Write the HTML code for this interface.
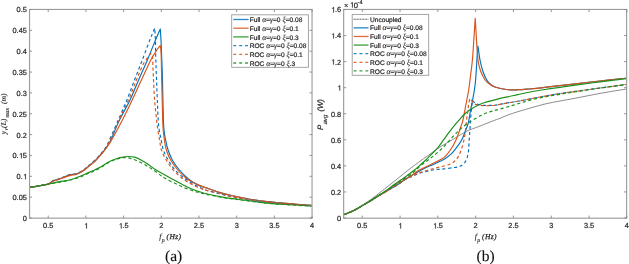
<!DOCTYPE html>
<html><head><meta charset="utf-8"><style>
html,body{margin:0;padding:0;background:#fff;width:629px;height:264px;overflow:hidden;}
svg{display:block;font-family:"Liberation Sans",sans-serif;will-change:transform;}
</style></head><body>
<svg width="629" height="264" viewBox="0 0 629 264">
<style>text{text-rendering:geometricPrecision}.tk{font-family:"Liberation Sans",sans-serif;font-size:7.4px;fill:#262626;stroke:#262626;stroke-width:0.2px}.lg{font-family:"Liberation Sans",sans-serif;font-size:6.6px;fill:#1e1e1e;stroke:#1e1e1e;stroke-width:0.2px}.gr{font-family:"Liberation Serif",serif;font-style:italic;font-size:7.6px;stroke-width:0.12px}.lbl{font-family:"Liberation Serif",serif;font-style:italic;fill:#262626;stroke:#262626;stroke-width:0.12px}.h{fill:none;stroke:none}.o1{fill:#262626;stroke:#262626;stroke-width:0.2px;stroke-linejoin:round}.cap{font-family:"Liberation Serif",serif;font-size:15.5px;fill:#111;stroke:#111;stroke-width:0.12px;text-anchor:middle}</style>
<rect width="629" height="264" fill="#fff"/>
<path d="M29.50 187.30 C30.42 187.18 33.25 186.87 35.00 186.60 C36.75 186.33 38.42 185.98 40.00 185.70 C41.58 185.42 43.08 185.18 44.50 184.90 C45.92 184.62 47.05 184.68 48.50 184.00 C49.95 183.32 51.62 181.57 53.20 180.80 C54.78 180.03 56.25 180.00 58.00 179.40 C59.75 178.80 61.80 177.97 63.70 177.20 C65.60 176.43 67.88 175.27 69.40 174.80 C70.92 174.33 71.67 174.52 72.80 174.40 C73.93 174.28 74.88 174.48 76.20 174.10 C77.52 173.72 79.38 172.78 80.70 172.10 C82.02 171.42 82.88 170.88 84.10 170.00 C85.32 169.12 86.12 168.38 88.00 166.80 C89.88 165.22 93.23 162.57 95.40 160.50 C97.57 158.43 99.12 156.63 101.00 154.40 C102.88 152.17 105.07 149.50 106.70 147.10 C108.33 144.70 108.67 144.52 110.80 140.00 C112.93 135.48 116.30 126.67 119.50 120.00 C122.70 113.33 126.82 106.67 130.00 100.00 C133.18 93.33 135.70 86.67 138.60 80.00 C141.50 73.33 144.58 66.67 147.40 60.00 C150.22 53.33 153.87 44.00 155.50 40.00 C157.13 36.00 156.40 37.83 157.20 36.00 C158.00 34.17 159.78 30.17 160.30 29.00 C160.42 30.83 160.75 34.83 161.00 40.00 C161.25 45.17 161.55 53.33 161.80 60.00 C162.05 66.67 162.32 73.33 162.50 80.00 C162.68 86.67 162.75 93.33 162.90 100.00 C163.05 106.67 163.22 115.00 163.40 120.00 C163.58 125.00 163.63 126.67 164.00 130.00 C164.37 133.33 164.92 136.67 165.60 140.00 C166.28 143.33 166.98 146.67 168.10 150.00 C169.22 153.33 170.42 156.67 172.30 160.00 C174.18 163.33 176.85 166.97 179.40 170.00 C181.95 173.03 185.25 176.10 187.60 178.20 C189.95 180.30 191.43 181.32 193.50 182.60 C195.57 183.88 197.67 184.95 200.00 185.90 C202.33 186.85 204.17 187.18 207.50 188.30 C210.83 189.42 215.83 191.35 220.00 192.60 C224.17 193.85 228.33 194.85 232.50 195.80 C236.67 196.75 239.93 197.42 245.00 198.30 C250.07 199.18 256.10 200.25 262.90 201.10 C269.70 201.95 277.70 202.68 285.80 203.40 C293.90 204.12 307.22 205.07 311.50 205.40" fill="none" stroke="#0072BD" stroke-width="1.15" stroke-linejoin="round"/>
<path d="M29.50 187.30 C30.42 187.18 33.25 186.87 35.00 186.60 C36.75 186.33 38.42 185.98 40.00 185.70 C41.58 185.42 43.08 185.18 44.50 184.90 C45.92 184.62 47.05 184.65 48.50 184.00 C49.95 183.35 51.62 181.73 53.20 181.00 C54.78 180.27 56.25 180.17 58.00 179.60 C59.75 179.03 61.80 178.27 63.70 177.60 C65.60 176.93 67.88 176.03 69.40 175.60 C70.92 175.17 71.67 175.20 72.80 175.00 C73.93 174.80 74.88 174.85 76.20 174.40 C77.52 173.95 79.38 172.98 80.70 172.30 C82.02 171.62 82.88 171.17 84.10 170.30 C85.32 169.43 86.12 168.68 88.00 167.10 C89.88 165.52 93.23 162.87 95.40 160.80 C97.57 158.73 99.12 156.93 101.00 154.70 C102.88 152.47 104.93 149.85 106.70 147.40 C108.47 144.95 108.98 144.57 111.60 140.00 C114.22 135.43 118.97 126.67 122.40 120.00 C125.83 113.33 129.03 106.67 132.20 100.00 C135.37 93.33 138.30 86.67 141.40 80.00 C144.50 73.33 148.43 64.67 150.80 60.00 C153.17 55.33 154.43 53.92 155.60 52.00 C156.77 50.08 157.03 49.57 157.80 48.50 C158.57 47.43 159.80 46.08 160.20 45.60 C160.32 46.33 160.72 47.60 160.90 50.00 C161.08 52.40 161.17 55.00 161.30 60.00 C161.43 65.00 161.55 73.33 161.70 80.00 C161.85 86.67 162.03 93.33 162.20 100.00 C162.37 106.67 162.53 115.00 162.70 120.00 C162.87 125.00 162.92 126.67 163.20 130.00 C163.48 133.33 163.87 136.67 164.40 140.00 C164.93 143.33 165.37 146.67 166.40 150.00 C167.43 153.33 168.70 156.67 170.60 160.00 C172.50 163.33 175.23 167.00 177.80 170.00 C180.37 173.00 183.55 176.00 186.00 178.00 C188.45 180.00 190.17 180.73 192.50 182.00 C194.83 183.27 197.50 184.55 200.00 185.60 C202.50 186.65 204.17 187.13 207.50 188.30 C210.83 189.47 215.83 191.35 220.00 192.60 C224.17 193.85 228.33 194.85 232.50 195.80 C236.67 196.75 239.93 197.42 245.00 198.30 C250.07 199.18 256.10 200.25 262.90 201.10 C269.70 201.95 277.70 202.68 285.80 203.40 C293.90 204.12 307.22 205.07 311.50 205.40" fill="none" stroke="#D95319" stroke-width="1.15" stroke-linejoin="round"/>
<path d="M29.50 187.30 C30.42 187.18 33.25 186.87 35.00 186.60 C36.75 186.33 38.42 185.98 40.00 185.70 C41.58 185.42 43.08 185.18 44.50 184.90 C45.92 184.62 46.60 184.42 48.50 184.00 C50.40 183.58 53.65 182.87 55.90 182.40 C58.15 181.93 59.75 181.60 62.00 181.20 C64.25 180.80 66.37 180.83 69.40 180.00 C72.43 179.17 77.10 177.40 80.20 176.20 C83.30 175.00 85.87 173.70 88.00 172.80 C90.13 171.90 91.00 171.72 93.00 170.80 C95.00 169.88 97.47 168.73 100.00 167.30 C102.53 165.87 105.72 163.53 108.20 162.20 C110.68 160.87 112.68 160.12 114.90 159.30 C117.12 158.48 119.30 157.77 121.50 157.30 C123.70 156.83 125.90 156.52 128.10 156.50 C130.30 156.48 132.48 156.58 134.70 157.20 C136.92 157.82 139.18 159.03 141.40 160.20 C143.62 161.37 145.73 162.68 148.00 164.20 C150.27 165.72 153.00 167.97 155.00 169.30 C157.00 170.63 158.33 171.25 160.00 172.20 C161.67 173.15 162.27 173.48 165.00 175.00 C167.73 176.52 172.62 179.27 176.40 181.30 C180.18 183.33 184.60 185.72 187.70 187.20 C190.80 188.68 193.10 189.47 195.00 190.20 C196.90 190.93 197.02 190.97 199.10 191.60 C201.18 192.23 204.02 193.17 207.50 194.00 C210.98 194.83 215.83 195.82 220.00 196.60 C224.17 197.38 228.33 198.10 232.50 198.70 C236.67 199.30 239.93 199.55 245.00 200.20 C250.07 200.85 256.10 201.88 262.90 202.60 C269.70 203.32 277.70 203.93 285.80 204.50 C293.90 205.07 307.22 205.75 311.50 206.00" fill="none" stroke="#1c901c" stroke-width="1.20" stroke-linejoin="round"/>
<path d="M29.50 187.30 C30.42 187.18 33.25 186.87 35.00 186.60 C36.75 186.33 38.42 185.98 40.00 185.70 C41.58 185.42 43.08 185.18 44.50 184.90 C45.92 184.62 47.05 184.72 48.50 184.00 C49.95 183.28 51.62 181.40 53.20 180.60 C54.78 179.80 56.25 179.80 58.00 179.20 C59.75 178.60 61.80 177.77 63.70 177.00 C65.60 176.23 67.88 175.07 69.40 174.60 C70.92 174.13 71.67 174.33 72.80 174.20 C73.93 174.07 74.88 174.22 76.20 173.80 C77.52 173.38 79.38 172.40 80.70 171.70 C82.02 171.00 82.88 170.52 84.10 169.60 C85.32 168.68 86.12 167.85 88.00 166.20 C89.88 164.55 93.23 161.82 95.40 159.70 C97.57 157.58 99.20 155.65 101.00 153.50 C102.80 151.35 104.80 149.05 106.20 146.80 C107.60 144.55 107.38 144.47 109.40 140.00 C111.42 135.53 115.38 126.67 118.30 120.00 C121.22 113.33 124.20 106.67 126.90 100.00 C129.60 93.33 131.93 86.67 134.50 80.00 C137.07 73.33 139.75 66.67 142.30 60.00 C144.85 53.33 148.20 44.17 149.80 40.00 C151.40 35.83 151.08 36.97 151.90 35.00 C152.72 33.03 154.23 29.33 154.70 28.20 C154.82 30.17 155.22 34.70 155.40 40.00 C155.58 45.30 155.60 53.33 155.80 60.00 C156.00 66.67 156.35 73.33 156.60 80.00 C156.85 86.67 157.03 93.33 157.30 100.00 C157.57 106.67 157.88 115.00 158.20 120.00 C158.52 125.00 158.70 126.67 159.20 130.00 C159.70 133.33 160.50 136.67 161.20 140.00 C161.90 143.33 162.23 146.67 163.40 150.00 C164.57 153.33 166.27 156.67 168.20 160.00 C170.13 163.33 172.37 167.00 175.00 170.00 C177.63 173.00 181.50 176.00 184.00 178.00 C186.50 180.00 187.93 180.70 190.00 182.00 C192.07 183.30 194.40 184.72 196.40 185.80 C198.40 186.88 200.15 187.70 202.00 188.50 C203.85 189.30 204.50 189.72 207.50 190.60 C210.50 191.48 215.83 192.77 220.00 193.80 C224.17 194.83 228.33 195.93 232.50 196.80 C236.67 197.67 239.93 198.20 245.00 199.00 C250.07 199.80 256.10 200.82 262.90 201.60 C269.70 202.38 277.70 203.03 285.80 203.70 C293.90 204.37 307.22 205.28 311.50 205.60" fill="none" stroke="#0072BD" stroke-width="1.15" stroke-linejoin="round" stroke-dasharray="3.2 2.6"/>
<path d="M29.50 187.30 C30.42 187.18 33.25 186.87 35.00 186.60 C36.75 186.33 38.42 185.98 40.00 185.70 C41.58 185.42 43.08 185.18 44.50 184.90 C45.92 184.62 47.05 184.70 48.50 184.00 C49.95 183.30 51.62 181.48 53.20 180.70 C54.78 179.92 56.25 179.90 58.00 179.30 C59.75 178.70 61.80 177.85 63.70 177.10 C65.60 176.35 67.88 175.23 69.40 174.80 C70.92 174.37 71.67 174.63 72.80 174.50 C73.93 174.37 74.88 174.43 76.20 174.00 C77.52 173.57 79.38 172.58 80.70 171.90 C82.02 171.22 82.88 170.78 84.10 169.90 C85.32 169.02 86.12 168.22 88.00 166.60 C89.88 164.98 93.23 162.30 95.40 160.20 C97.57 158.10 99.15 156.20 101.00 154.00 C102.85 151.80 104.97 149.33 106.50 147.00 C108.03 144.67 108.12 144.50 110.20 140.00 C112.28 135.50 115.95 126.67 119.00 120.00 C122.05 113.33 125.60 106.67 128.50 100.00 C131.40 93.33 134.02 85.83 136.40 80.00 C138.78 74.17 141.20 68.33 142.80 65.00 C144.40 61.67 145.05 61.43 146.00 60.00 C146.95 58.57 147.83 57.33 148.50 56.40 C149.17 55.47 149.55 54.90 150.00 54.40 C150.45 53.90 151.00 53.57 151.20 53.40 C151.42 54.00 152.22 54.90 152.50 57.00 C152.78 59.10 152.73 62.17 152.90 66.00 C153.07 69.83 153.22 74.33 153.50 80.00 C153.78 85.67 154.08 93.33 154.60 100.00 C155.12 106.67 156.05 115.00 156.60 120.00 C157.15 125.00 157.40 126.67 157.90 130.00 C158.40 133.33 159.02 136.67 159.60 140.00 C160.18 143.33 160.28 146.67 161.40 150.00 C162.52 153.33 164.33 156.67 166.30 160.00 C168.27 163.33 170.63 167.00 173.20 170.00 C175.77 173.00 179.15 175.90 181.70 178.00 C184.25 180.10 186.28 181.27 188.50 182.60 C190.72 183.93 192.75 184.95 195.00 186.00 C197.25 187.05 199.92 188.13 202.00 188.90 C204.08 189.67 204.50 189.78 207.50 190.60 C210.50 191.42 215.83 192.77 220.00 193.80 C224.17 194.83 228.33 195.93 232.50 196.80 C236.67 197.67 239.93 198.20 245.00 199.00 C250.07 199.80 256.10 200.82 262.90 201.60 C269.70 202.38 277.70 203.03 285.80 203.70 C293.90 204.37 307.22 205.28 311.50 205.60" fill="none" stroke="#D95319" stroke-width="1.15" stroke-linejoin="round" stroke-dasharray="3.2 2.6"/>
<path d="M29.50 187.30 C30.42 187.18 33.25 186.87 35.00 186.60 C36.75 186.33 38.42 185.98 40.00 185.70 C41.58 185.42 43.08 185.18 44.50 184.90 C45.92 184.62 47.05 184.27 48.50 184.00 C49.95 183.73 51.30 183.62 53.20 183.30 C55.10 182.98 57.68 182.48 59.90 182.10 C62.12 181.72 63.20 181.82 66.50 181.00 C69.80 180.18 76.12 178.47 79.70 177.20 C83.28 175.93 85.78 174.37 88.00 173.40 C90.22 172.43 91.00 172.30 93.00 171.40 C95.00 170.50 97.47 169.43 100.00 168.00 C102.53 166.57 105.72 164.17 108.20 162.80 C110.68 161.43 112.68 160.63 114.90 159.80 C117.12 158.97 119.30 158.12 121.50 157.80 C123.70 157.48 125.90 157.57 128.10 157.90 C130.30 158.23 132.48 158.98 134.70 159.80 C136.92 160.62 139.18 161.67 141.40 162.80 C143.62 163.93 146.02 165.42 148.00 166.60 C149.98 167.78 151.30 168.52 153.30 169.90 C155.30 171.28 158.05 173.50 160.00 174.90 C161.95 176.30 162.27 176.78 165.00 178.30 C167.73 179.82 172.62 182.22 176.40 184.00 C180.18 185.78 183.92 187.57 187.70 189.00 C191.48 190.43 195.80 191.67 199.10 192.60 C202.40 193.53 204.02 193.87 207.50 194.60 C210.98 195.33 215.83 196.28 220.00 197.00 C224.17 197.72 228.33 198.33 232.50 198.90 C236.67 199.47 239.93 199.75 245.00 200.40 C250.07 201.05 256.10 202.10 262.90 202.80 C269.70 203.50 277.70 204.05 285.80 204.60 C293.90 205.15 307.22 205.85 311.50 206.10" fill="none" stroke="#1c901c" stroke-width="1.15" stroke-linejoin="round" stroke-dasharray="3.2 2.6"/>
<path d="M343.50 214.80 C344.25 214.50 346.32 213.72 348.00 213.00 C349.68 212.28 351.85 211.40 353.60 210.50 C355.35 209.60 356.73 208.67 358.50 207.60 C360.27 206.53 361.78 205.72 364.20 204.10 C366.62 202.48 369.45 200.55 373.00 197.90 C376.55 195.25 381.33 191.47 385.50 188.20 C389.67 184.93 394.08 181.42 398.00 178.30 C401.92 175.18 405.15 172.48 409.00 169.50 C412.85 166.52 417.77 162.83 421.10 160.40 C424.43 157.97 426.35 156.80 429.00 154.90 C431.65 153.00 434.33 150.82 437.00 149.00 C439.67 147.18 442.47 145.53 445.00 144.00 C447.53 142.47 449.05 141.67 452.20 139.80 C455.35 137.93 460.93 134.47 463.90 132.80 C466.87 131.13 467.08 131.02 470.00 129.80 C472.92 128.58 477.62 126.97 481.40 125.50 C485.18 124.03 489.60 122.20 492.70 121.00 C495.80 119.80 497.72 119.20 500.00 118.30 C502.28 117.40 503.90 116.55 506.40 115.60 C508.90 114.65 511.22 113.80 515.00 112.60 C518.78 111.40 524.10 109.83 529.10 108.40 C534.10 106.97 539.85 105.23 545.00 104.00 C550.15 102.77 554.92 101.97 560.00 101.00 C565.08 100.03 568.83 99.47 575.50 98.20 C582.17 96.93 591.58 94.92 600.00 93.40 C608.42 91.88 621.67 89.82 626.00 89.10" fill="none" stroke="#6e6e6e" stroke-width="0.80" stroke-linejoin="round"/>
<path d="M343.50 214.80 C344.25 214.50 346.32 213.70 348.00 213.00 C349.68 212.30 351.85 211.45 353.60 210.60 C355.35 209.75 356.73 208.90 358.50 207.90 C360.27 206.90 361.95 205.92 364.20 204.60 C366.45 203.28 369.37 201.60 372.00 200.00 C374.63 198.40 377.35 196.60 380.00 195.00 C382.65 193.40 384.90 192.15 387.90 190.40 C390.90 188.65 395.23 186.27 398.00 184.50 C400.77 182.73 401.85 181.53 404.50 179.80 C407.15 178.07 411.32 175.62 413.90 174.10 C416.48 172.58 418.05 171.77 420.00 170.70 C421.95 169.63 423.40 168.73 425.60 167.70 C427.80 166.67 430.68 165.63 433.20 164.50 C435.72 163.37 438.73 161.87 440.70 160.90 C442.67 159.93 443.33 159.78 445.00 158.70 C446.67 157.62 449.03 155.92 450.70 154.40 C452.37 152.88 453.17 152.00 455.00 149.60 C456.83 147.20 460.00 143.02 461.70 140.00 C463.40 136.98 464.18 134.08 465.20 131.50 C466.22 128.92 467.18 126.42 467.80 124.50 C468.42 122.58 468.43 122.42 468.90 120.00 C469.37 117.58 469.98 113.33 470.60 110.00 C471.22 106.67 471.97 103.33 472.60 100.00 C473.23 96.67 473.90 93.33 474.40 90.00 C474.90 86.67 475.23 84.17 475.60 80.00 C475.97 75.83 476.33 69.17 476.60 65.00 C476.87 60.83 476.98 58.15 477.20 55.00 C477.42 51.85 477.78 47.58 477.90 46.10 C478.05 47.08 478.45 49.68 478.80 52.00 C479.15 54.32 479.37 56.92 480.00 60.00 C480.63 63.08 481.52 67.25 482.60 70.50 C483.68 73.75 485.18 77.22 486.50 79.50 C487.82 81.78 489.08 82.95 490.50 84.20 C491.92 85.45 492.35 86.12 495.00 87.00 C497.65 87.88 502.62 89.03 506.40 89.50 C510.18 89.97 513.92 89.88 517.70 89.80 C521.48 89.72 524.55 89.40 529.10 89.00 C533.65 88.60 539.85 87.97 545.00 87.40 C550.15 86.83 554.92 86.18 560.00 85.60 C565.08 85.02 568.83 84.67 575.50 83.90 C582.17 83.13 591.58 81.95 600.00 81.00 C608.42 80.05 621.67 78.67 626.00 78.20" fill="none" stroke="#0072BD" stroke-width="1.15" stroke-linejoin="round"/>
<path d="M343.50 214.80 C344.25 214.50 346.32 213.70 348.00 213.00 C349.68 212.30 351.85 211.45 353.60 210.60 C355.35 209.75 356.73 208.90 358.50 207.90 C360.27 206.90 361.95 205.92 364.20 204.60 C366.45 203.28 369.37 201.60 372.00 200.00 C374.63 198.40 377.35 196.62 380.00 195.00 C382.65 193.38 385.40 192.02 387.90 190.30 C390.40 188.58 392.43 186.33 395.00 184.70 C397.57 183.07 400.52 182.03 403.30 180.50 C406.08 178.97 409.25 177.12 411.70 175.50 C414.15 173.88 415.68 172.20 418.00 170.80 C420.32 169.40 423.07 168.35 425.60 167.10 C428.13 165.85 430.68 164.57 433.20 163.30 C435.72 162.03 438.73 160.62 440.70 159.50 C442.67 158.38 443.42 158.13 445.00 156.60 C446.58 155.07 448.37 153.07 450.20 150.30 C452.03 147.53 454.18 144.05 456.00 140.00 C457.82 135.95 459.93 129.33 461.10 126.00 C462.27 122.67 462.37 122.67 463.00 120.00 C463.63 117.33 464.27 113.33 464.90 110.00 C465.53 106.67 466.17 103.33 466.80 100.00 C467.43 96.67 468.17 93.33 468.70 90.00 C469.23 86.67 469.38 85.00 470.00 80.00 C470.62 75.00 471.77 66.67 472.40 60.00 C473.03 53.33 473.43 45.33 473.80 40.00 C474.17 34.67 474.37 31.62 474.60 28.00 C474.83 24.38 475.10 19.92 475.20 18.30 C475.30 19.92 475.58 24.38 475.80 28.00 C476.02 31.62 476.13 34.67 476.50 40.00 C476.87 45.33 477.35 54.92 478.00 60.00 C478.65 65.08 479.27 67.25 480.40 70.50 C481.53 73.75 483.37 77.28 484.80 79.50 C486.23 81.72 487.30 82.55 489.00 83.80 C490.70 85.05 492.10 86.05 495.00 87.00 C497.90 87.95 502.62 89.03 506.40 89.50 C510.18 89.97 513.92 89.88 517.70 89.80 C521.48 89.72 524.55 89.40 529.10 89.00 C533.65 88.60 539.85 87.97 545.00 87.40 C550.15 86.83 554.92 86.18 560.00 85.60 C565.08 85.02 568.83 84.67 575.50 83.90 C582.17 83.13 591.58 81.95 600.00 81.00 C608.42 80.05 621.67 78.67 626.00 78.20" fill="none" stroke="#D95319" stroke-width="1.15" stroke-linejoin="round"/>
<path d="M343.50 214.80 C344.25 214.50 346.32 213.70 348.00 213.00 C349.68 212.30 351.85 211.45 353.60 210.60 C355.35 209.75 356.73 208.90 358.50 207.90 C360.27 206.90 361.95 205.97 364.20 204.60 C366.45 203.23 369.37 201.38 372.00 199.70 C374.63 198.02 377.33 196.25 380.00 194.50 C382.67 192.75 385.50 190.95 388.00 189.20 C390.50 187.45 392.25 185.97 395.00 184.00 C397.75 182.03 401.35 179.65 404.50 177.40 C407.65 175.15 411.32 172.52 413.90 170.50 C416.48 168.48 418.07 167.02 420.00 165.30 C421.93 163.58 423.77 161.87 425.50 160.20 C427.23 158.53 428.40 157.32 430.40 155.30 C432.40 153.28 435.35 150.62 437.50 148.10 C439.65 145.58 441.38 142.82 443.30 140.20 C445.22 137.58 447.13 134.88 449.00 132.40 C450.87 129.92 452.87 127.32 454.50 125.30 C456.13 123.28 457.13 122.13 458.80 120.30 C460.47 118.47 462.60 116.08 464.50 114.30 C466.40 112.52 468.45 110.85 470.20 109.60 C471.95 108.35 473.53 107.62 475.00 106.80 C476.47 105.98 477.50 105.37 479.00 104.70 C480.50 104.03 482.17 103.40 484.00 102.80 C485.83 102.20 488.17 101.60 490.00 101.10 C491.83 100.60 492.33 100.45 495.00 99.80 C497.67 99.15 502.22 98.05 506.00 97.20 C509.78 96.35 513.70 95.57 517.70 94.70 C521.70 93.83 525.45 92.87 530.00 92.00 C534.55 91.13 540.00 90.28 545.00 89.50 C550.00 88.72 554.92 88.02 560.00 87.30 C565.08 86.58 568.83 86.12 575.50 85.20 C582.17 84.28 591.58 82.90 600.00 81.80 C608.42 80.70 621.67 79.13 626.00 78.60" fill="none" stroke="#1c901c" stroke-width="1.20" stroke-linejoin="round"/>
<path d="M343.50 214.80 C344.25 214.50 346.32 213.70 348.00 213.00 C349.68 212.30 351.85 211.45 353.60 210.60 C355.35 209.75 356.73 208.90 358.50 207.90 C360.27 206.90 361.95 205.92 364.20 204.60 C366.45 203.28 369.37 201.60 372.00 200.00 C374.63 198.40 377.35 196.58 380.00 195.00 C382.65 193.42 384.90 192.25 387.90 190.50 C390.90 188.75 395.57 186.05 398.00 184.50 C400.43 182.95 400.92 182.23 402.50 181.20 C404.08 180.17 405.55 179.25 407.50 178.30 C409.45 177.35 412.20 176.35 414.20 175.50 C416.20 174.65 417.60 173.85 419.50 173.20 C421.40 172.55 423.58 172.12 425.60 171.60 C427.62 171.08 429.58 170.47 431.60 170.10 C433.62 169.73 435.62 169.60 437.70 169.40 C439.78 169.20 441.30 169.22 444.10 168.90 C446.90 168.58 452.02 167.88 454.50 167.50 C456.98 167.12 457.82 166.95 459.00 166.60 C460.18 166.25 460.77 165.90 461.60 165.40 C462.43 164.90 463.33 164.28 464.00 163.60 C464.67 162.92 465.13 162.15 465.60 161.30 C466.07 160.45 466.45 159.47 466.80 158.50 C467.15 157.53 467.40 156.92 467.70 155.50 C468.00 154.08 468.35 152.58 468.60 150.00 C468.85 147.42 468.98 143.33 469.20 140.00 C469.42 136.67 469.68 133.33 469.90 130.00 C470.12 126.67 470.25 123.33 470.50 120.00 C470.75 116.67 471.17 112.50 471.40 110.00 C471.63 107.50 471.73 106.57 471.90 105.00 C472.07 103.43 472.32 101.33 472.40 100.60 C472.55 100.72 472.98 101.00 473.30 101.30 C473.62 101.60 473.85 102.02 474.30 102.40 C474.75 102.78 475.37 103.27 476.00 103.60 C476.63 103.93 476.65 104.10 478.10 104.40 C479.55 104.70 482.72 105.23 484.70 105.40 C486.68 105.57 488.28 105.42 490.00 105.40 C491.72 105.38 492.27 105.68 495.00 105.30 C497.73 104.92 502.62 103.77 506.40 103.10 C510.18 102.43 513.92 101.97 517.70 101.30 C521.48 100.63 524.55 99.97 529.10 99.10 C533.65 98.23 539.85 97.02 545.00 96.10 C550.15 95.18 554.92 94.38 560.00 93.60 C565.08 92.82 568.83 92.33 575.50 91.40 C582.17 90.47 591.58 89.15 600.00 88.00 C608.42 86.85 621.67 85.08 626.00 84.50" fill="none" stroke="#0072BD" stroke-width="1.15" stroke-linejoin="round" stroke-dasharray="3.2 2.6"/>
<path d="M343.50 214.80 C344.25 214.50 346.32 213.70 348.00 213.00 C349.68 212.30 351.85 211.45 353.60 210.60 C355.35 209.75 356.73 208.90 358.50 207.90 C360.27 206.90 361.95 205.92 364.20 204.60 C366.45 203.28 369.37 201.60 372.00 200.00 C374.63 198.40 377.35 196.60 380.00 195.00 C382.65 193.40 384.90 192.18 387.90 190.40 C390.90 188.62 395.57 185.87 398.00 184.30 C400.43 182.73 400.92 182.05 402.50 181.00 C404.08 179.95 405.55 178.98 407.50 178.00 C409.45 177.02 412.20 175.97 414.20 175.10 C416.20 174.23 417.60 173.50 419.50 172.80 C421.40 172.10 423.58 171.53 425.60 170.90 C427.62 170.27 429.58 169.57 431.60 169.00 C433.62 168.43 435.67 168.00 437.70 167.50 C439.73 167.00 441.80 166.55 443.80 166.00 C445.80 165.45 447.92 164.98 449.70 164.20 C451.48 163.42 453.07 162.57 454.50 161.30 C455.93 160.03 457.20 158.48 458.30 156.60 C459.40 154.72 460.17 152.68 461.10 150.00 C462.03 147.32 463.17 143.83 463.90 140.50 C464.63 137.17 465.05 133.42 465.50 130.00 C465.95 126.58 466.20 123.33 466.60 120.00 C467.00 116.67 467.50 112.92 467.90 110.00 C468.30 107.08 468.68 104.40 469.00 102.50 C469.32 100.60 469.67 99.25 469.80 98.60 C470.00 98.80 470.57 99.33 471.00 99.80 C471.43 100.27 471.85 100.73 472.40 101.40 C472.95 102.07 473.35 103.20 474.30 103.80 C475.25 104.40 476.37 104.67 478.10 105.00 C479.83 105.33 482.72 105.70 484.70 105.80 C486.68 105.90 488.28 105.68 490.00 105.60 C491.72 105.52 492.27 105.72 495.00 105.30 C497.73 104.88 502.62 103.77 506.40 103.10 C510.18 102.43 513.92 101.97 517.70 101.30 C521.48 100.63 524.55 99.97 529.10 99.10 C533.65 98.23 539.85 97.02 545.00 96.10 C550.15 95.18 554.92 94.38 560.00 93.60 C565.08 92.82 568.83 92.33 575.50 91.40 C582.17 90.47 591.58 89.15 600.00 88.00 C608.42 86.85 621.67 85.08 626.00 84.50" fill="none" stroke="#D95319" stroke-width="1.15" stroke-linejoin="round" stroke-dasharray="3.2 2.6"/>
<path d="M343.50 214.80 C344.25 214.50 346.32 213.70 348.00 213.00 C349.68 212.30 351.85 211.45 353.60 210.60 C355.35 209.75 356.73 208.90 358.50 207.90 C360.27 206.90 361.95 205.95 364.20 204.60 C366.45 203.25 369.37 201.45 372.00 199.80 C374.63 198.15 377.33 196.40 380.00 194.70 C382.67 193.00 385.00 191.55 388.00 189.60 C391.00 187.65 393.92 185.78 398.00 183.00 C402.08 180.22 408.83 175.68 412.50 172.90 C416.17 170.12 417.43 168.42 420.00 166.30 C422.57 164.18 425.68 161.92 427.90 160.20 C430.12 158.48 431.28 157.65 433.30 156.00 C435.32 154.35 438.05 152.05 440.00 150.30 C441.95 148.55 443.42 147.17 445.00 145.50 C446.58 143.83 447.92 142.07 449.50 140.30 C451.08 138.53 453.00 136.47 454.50 134.90 C456.00 133.33 457.08 132.23 458.50 130.90 C459.92 129.57 461.58 128.08 463.00 126.90 C464.42 125.72 465.28 124.98 467.00 123.80 C468.72 122.62 470.90 121.22 473.30 119.80 C475.70 118.38 479.12 116.47 481.40 115.30 C483.68 114.13 484.73 113.62 487.00 112.80 C489.27 111.98 491.77 111.33 495.00 110.40 C498.23 109.47 502.62 108.30 506.40 107.20 C510.18 106.10 513.92 104.93 517.70 103.80 C521.48 102.67 524.55 101.55 529.10 100.40 C533.65 99.25 539.85 97.92 545.00 96.90 C550.15 95.88 554.92 95.15 560.00 94.30 C565.08 93.45 568.83 92.85 575.50 91.80 C582.17 90.75 591.58 89.20 600.00 88.00 C608.42 86.80 621.67 85.17 626.00 84.60" fill="none" stroke="#1c901c" stroke-width="1.15" stroke-linejoin="round" stroke-dasharray="3.2 2.6"/>
<rect x="29.55" y="9.45" width="282.50" height="208.70" fill="none" stroke="#9c9c9c" stroke-width="1.15"/>
<path d="M48.20 218.15v-2.60M48.20 9.45v2.60M85.90 218.15v-2.60M85.90 9.45v2.60M123.60 218.15v-2.60M123.60 9.45v2.60M161.30 218.15v-2.60M161.30 9.45v2.60M199.00 218.15v-2.60M199.00 9.45v2.60M236.70 218.15v-2.60M236.70 9.45v2.60M274.40 218.15v-2.60M274.40 9.45v2.60M312.10 218.15v-2.60M312.10 9.45v2.60M29.55 218.00h2.60M312.05 218.00h-2.60M29.55 197.15h2.60M312.05 197.15h-2.60M29.55 176.30h2.60M312.05 176.30h-2.60M29.55 155.45h2.60M312.05 155.45h-2.60M29.55 134.60h2.60M312.05 134.60h-2.60M29.55 113.75h2.60M312.05 113.75h-2.60M29.55 92.90h2.60M312.05 92.90h-2.60M29.55 72.05h2.60M312.05 72.05h-2.60M29.55 51.20h2.60M312.05 51.20h-2.60M29.55 30.35h2.60M312.05 30.35h-2.60M29.55 9.50h2.60M312.05 9.50h-2.60" stroke="#8a8a8a" stroke-width="0.9" fill="none"/>
<rect x="343.65" y="9.45" width="282.95" height="208.75" fill="none" stroke="#9c9c9c" stroke-width="1.15"/>
<path d="M362.25 218.20v-2.60M362.25 9.45v2.60M400.05 218.20v-2.60M400.05 9.45v2.60M437.85 218.20v-2.60M437.85 9.45v2.60M475.65 218.20v-2.60M475.65 9.45v2.60M513.45 218.20v-2.60M513.45 9.45v2.60M551.25 218.20v-2.60M551.25 9.45v2.60M589.05 218.20v-2.60M589.05 9.45v2.60M626.85 218.20v-2.60M626.85 9.45v2.60M343.65 218.00h2.60M626.60 218.00h-2.60M343.65 191.94h2.60M626.60 191.94h-2.60M343.65 165.88h2.60M626.60 165.88h-2.60M343.65 139.82h2.60M626.60 139.82h-2.60M343.65 113.76h2.60M626.60 113.76h-2.60M343.65 87.70h2.60M626.60 87.70h-2.60M343.65 61.64h2.60M626.60 61.64h-2.60M343.65 35.58h2.60M626.60 35.58h-2.60M343.65 9.52h2.60M626.60 9.52h-2.60" stroke="#8a8a8a" stroke-width="0.9" fill="none"/>
<text x="48.20" y="228.45" class="tk" text-anchor="middle">0.5</text>
<text x="85.90" y="228.45" class="tk" text-anchor="middle"><tspan class="h">1</tspan></text>
<path class="o1" d="M86.25 228.45 L86.25 223.98 L85.10 224.80 L85.10 224.19 L86.30 223.36 L86.90 223.36 L86.90 228.45 Z"/>
<text x="123.60" y="228.45" class="tk" text-anchor="middle"><tspan class="h">1</tspan>.5</text>
<path class="o1" d="M120.86 228.45 L120.86 223.98 L119.71 224.80 L119.71 224.19 L120.91 223.36 L121.51 223.36 L121.51 228.45 Z"/>
<text x="161.30" y="228.45" class="tk" text-anchor="middle">2</text>
<text x="199.00" y="228.45" class="tk" text-anchor="middle">2.5</text>
<text x="236.70" y="228.45" class="tk" text-anchor="middle">3</text>
<text x="274.40" y="228.45" class="tk" text-anchor="middle">3.5</text>
<text x="312.10" y="228.45" class="tk" text-anchor="middle">4</text>
<text x="362.25" y="228.45" class="tk" text-anchor="middle">0.5</text>
<text x="400.05" y="228.45" class="tk" text-anchor="middle"><tspan class="h">1</tspan></text>
<path class="o1" d="M400.40 228.45 L400.40 223.98 L399.25 224.80 L399.25 224.19 L400.45 223.36 L401.05 223.36 L401.05 228.45 Z"/>
<text x="437.85" y="228.45" class="tk" text-anchor="middle"><tspan class="h">1</tspan>.5</text>
<path class="o1" d="M435.11 228.45 L435.11 223.98 L433.96 224.80 L433.96 224.19 L435.16 223.36 L435.76 223.36 L435.76 228.45 Z"/>
<text x="475.65" y="228.45" class="tk" text-anchor="middle">2</text>
<text x="513.45" y="228.45" class="tk" text-anchor="middle">2.5</text>
<text x="551.25" y="228.45" class="tk" text-anchor="middle">3</text>
<text x="589.05" y="228.45" class="tk" text-anchor="middle">3.5</text>
<text x="626.85" y="228.45" class="tk" text-anchor="middle">4</text>
<text x="26.90" y="220.90" class="tk" text-anchor="end">0</text>
<text x="26.90" y="200.05" class="tk" text-anchor="end">0.05</text>
<text x="26.90" y="179.20" class="tk" text-anchor="end">0.<tspan class="h">1</tspan></text>
<path class="o1" d="M25.19 179.20 L25.19 174.73 L24.04 175.55 L24.04 174.94 L25.24 174.11 L25.84 174.11 L25.84 179.20 Z"/>
<text x="26.90" y="158.35" class="tk" text-anchor="end">0.<tspan class="h">1</tspan>5</text>
<path class="o1" d="M21.07 158.35 L21.07 153.88 L19.92 154.70 L19.92 154.09 L21.13 153.26 L21.73 153.26 L21.73 158.35 Z"/>
<text x="26.90" y="137.50" class="tk" text-anchor="end">0.2</text>
<text x="26.90" y="116.65" class="tk" text-anchor="end">0.25</text>
<text x="26.90" y="95.80" class="tk" text-anchor="end">0.3</text>
<text x="26.90" y="74.95" class="tk" text-anchor="end">0.35</text>
<text x="26.90" y="54.10" class="tk" text-anchor="end">0.4</text>
<text x="26.90" y="33.25" class="tk" text-anchor="end">0.45</text>
<text x="26.90" y="12.40" class="tk" text-anchor="end">0.5</text>
<text x="341.20" y="220.90" class="tk" text-anchor="end">0</text>
<text x="341.20" y="194.84" class="tk" text-anchor="end">0.2</text>
<text x="341.20" y="168.78" class="tk" text-anchor="end">0.4</text>
<text x="341.20" y="142.72" class="tk" text-anchor="end">0.6</text>
<text x="341.20" y="116.66" class="tk" text-anchor="end">0.8</text>
<text x="341.20" y="90.60" class="tk" text-anchor="end"><tspan class="h">1</tspan></text>
<path class="o1" d="M339.49 90.60 L339.49 86.13 L338.34 86.95 L338.34 86.34 L339.54 85.51 L340.14 85.51 L340.14 90.60 Z"/>
<text x="341.20" y="64.54" class="tk" text-anchor="end"><tspan class="h">1</tspan>.2</text>
<path class="o1" d="M333.32 64.54 L333.32 60.07 L332.17 60.89 L332.17 60.28 L333.37 59.45 L333.97 59.45 L333.97 64.54 Z"/>
<text x="341.20" y="38.48" class="tk" text-anchor="end"><tspan class="h">1</tspan>.4</text>
<path class="o1" d="M333.32 38.48 L333.32 34.01 L332.17 34.83 L332.17 34.22 L333.37 33.39 L333.97 33.39 L333.97 38.48 Z"/>
<text x="341.20" y="12.42" class="tk" text-anchor="end"><tspan class="h">1</tspan>.6</text>
<path class="o1" d="M333.32 12.42 L333.32 7.95 L332.17 8.77 L332.17 8.16 L333.37 7.33 L333.97 7.33 L333.97 12.42 Z"/>
<text x="343.9" y="7.5" class="tk" style="font-size:7.6px;stroke-width:0.1px">&#215;</text>
<text x="349.5" y="7.6" class="tk" style="font-size:7.7px"><tspan class="h">1</tspan>0</text>
<path class="o1" d="M352.00 7.60 L352.00 2.95 L350.80 3.80 L350.80 3.16 L352.06 2.30 L352.68 2.30 L352.68 7.60 Z"/>
<text x="357.6" y="3.6" class="tk" style="font-size:5.6px">-4</text>
<text x="159.30" y="239.3" class="lbl" style="font-size:7.8px">f</text>
<text x="161.80" y="242.2" class="lbl" style="font-size:5.8px">p</text>
<text x="166.60" y="238.9" class="lbl" style="font-size:7.5px;letter-spacing:0.35px;stroke-width:0.25px">(Hz)</text>
<text x="474.80" y="239.3" class="lbl" style="font-size:7.8px">f</text>
<text x="477.30" y="242.2" class="lbl" style="font-size:5.8px">p</text>
<text x="482.10" y="238.9" class="lbl" style="font-size:7.5px;letter-spacing:0.35px;stroke-width:0.25px">(Hz)</text>
<g transform="rotate(-90)">
<text x="-134.2" y="5.9" class="lbl" style="font-size:7.6px">y</text>
<text x="-130.0" y="8.0" class="lbl" style="font-size:5.2px">r</text>
<text x="-127.9" y="5.9" class="lbl" style="font-size:7.6px">(L)</text>
<text x="-117.6" y="8.7" class="lbl" style="font-size:5.8px">max</text>
<text x="-104.0" y="5.9" class="lbl" style="font-size:7.6px">(m)</text>
<text x="-130.0" y="323.4" class="tk" style="font-size:7.8px;font-style:italic">P</text>
<text x="-124.2" y="326.9" class="tk" style="font-size:5.9px;font-style:italic;stroke-width:0.1px">avg</text>
<text x="-111.6" y="323.4" class="tk" style="font-size:7.8px;font-style:italic">(W)</text>
</g>
<text x="173.6" y="261.3" class="cap">(a)</text>
<text x="485.6" y="261.3" class="cap">(b)</text>
<rect x="231.70" y="14.80" width="76.70" height="52.50" fill="#fff" stroke="#9c9c9c" stroke-width="0.9"/>
<path d="M233.30 19.50H248.60" stroke="#0072BD" stroke-width="1.3" opacity="0.85"/>
<text x="249.70" y="22.10" class="lg">Full <tspan class="gr">&#945;</tspan>=<tspan class="gr">&#947;</tspan>=0 <tspan class="gr">&#958;</tspan>=0.08</text>
<path d="M233.30 28.20H248.60" stroke="#D95319" stroke-width="1.3" opacity="0.85"/>
<text x="249.70" y="30.80" class="lg">Full <tspan class="gr">&#945;</tspan>=<tspan class="gr">&#947;</tspan>=0 <tspan class="gr">&#958;</tspan>=0.1</text>
<path d="M233.30 36.90H248.60" stroke="#1c901c" stroke-width="1.3" opacity="0.85"/>
<text x="249.70" y="39.50" class="lg">Full <tspan class="gr">&#945;</tspan>=<tspan class="gr">&#947;</tspan>=0 <tspan class="gr">&#958;</tspan>=0.3</text>
<path d="M233.30 45.60H248.60" stroke="#0072BD" stroke-width="1.3" stroke-dasharray="2.9 3.0" opacity="0.85"/>
<text x="249.70" y="48.20" class="lg">ROC <tspan class="gr">&#945;</tspan>=<tspan class="gr">&#947;</tspan>=0 <tspan class="gr">&#958;</tspan>=0.08</text>
<path d="M233.30 54.30H248.60" stroke="#D95319" stroke-width="1.3" stroke-dasharray="2.9 3.0" opacity="0.85"/>
<text x="249.70" y="56.90" class="lg">ROC <tspan class="gr">&#945;</tspan>=<tspan class="gr">&#947;</tspan>=0 <tspan class="gr">&#958;</tspan>=0.1</text>
<path d="M233.30 63.00H248.60" stroke="#1c901c" stroke-width="1.3" stroke-dasharray="2.9 3.0" opacity="0.85"/>
<text x="249.70" y="65.60" class="lg">ROC <tspan class="gr">&#945;</tspan>=<tspan class="gr">&#947;</tspan>=0 <tspan class="gr">&#958;</tspan>.3</text>
<rect x="352.20" y="14.40" width="76.50" height="60.90" fill="#fff" stroke="#9c9c9c" stroke-width="0.9"/>
<path d="M353.60 19.25H368.50" stroke="#6a6a6a" stroke-width="1.1" stroke-dasharray="2.2 0.7"/>
<text x="370.00" y="21.85" class="lg">Uncoupled</text>
<path d="M353.60 27.86H368.50" stroke="#0072BD" stroke-width="1.3" opacity="0.85"/>
<text x="370.00" y="30.46" class="lg">Full <tspan class="gr">&#945;</tspan>=<tspan class="gr">&#947;</tspan>=0 <tspan class="gr">&#958;</tspan>=0.08</text>
<path d="M353.60 36.47H368.50" stroke="#D95319" stroke-width="1.3" opacity="0.85"/>
<text x="370.00" y="39.07" class="lg">Full <tspan class="gr">&#945;</tspan>=<tspan class="gr">&#947;</tspan>=0 <tspan class="gr">&#958;</tspan>=0.1</text>
<path d="M353.60 45.08H368.50" stroke="#1c901c" stroke-width="1.3" opacity="0.85"/>
<text x="370.00" y="47.68" class="lg">Full <tspan class="gr">&#945;</tspan>=<tspan class="gr">&#947;</tspan>=0 <tspan class="gr">&#958;</tspan>=0.3</text>
<path d="M353.60 53.69H368.50" stroke="#0072BD" stroke-width="1.3" stroke-dasharray="2.9 3.0" opacity="0.85"/>
<text x="370.00" y="56.29" class="lg">ROC <tspan class="gr">&#945;</tspan>=<tspan class="gr">&#947;</tspan>=0 <tspan class="gr">&#958;</tspan>=0.08</text>
<path d="M353.60 62.30H368.50" stroke="#D95319" stroke-width="1.3" stroke-dasharray="2.9 3.0" opacity="0.85"/>
<text x="370.00" y="64.90" class="lg">ROC <tspan class="gr">&#945;</tspan>=<tspan class="gr">&#947;</tspan>=0 <tspan class="gr">&#958;</tspan>=0.1</text>
<path d="M353.60 70.91H368.50" stroke="#1c901c" stroke-width="1.3" stroke-dasharray="2.9 3.0" opacity="0.85"/>
<text x="370.00" y="73.51" class="lg">ROC <tspan class="gr">&#945;</tspan>=<tspan class="gr">&#947;</tspan>=0 <tspan class="gr">&#958;</tspan>=0.3</text>
</svg>
</body></html>
